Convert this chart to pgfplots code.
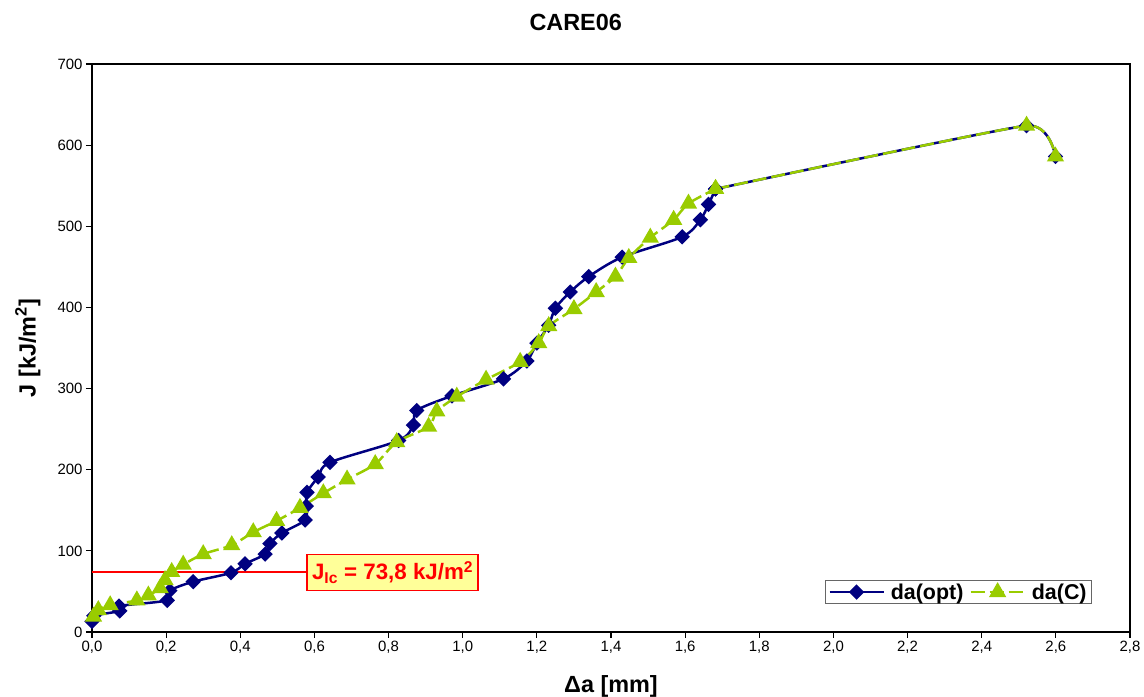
\documentclass[border=0pt]{standalone}
\usepackage{pgfplots}
\pgfplotsset{compat=1.18}
\usepackage{fontspec}
\setmainfont{Liberation Sans}
\definecolor{navyb}{HTML}{000080}
\definecolor{limeg}{HTML}{99CC00}
\definecolor{boxy}{HTML}{FFFF99}
\begin{document}
\begin{tikzpicture}
\useasboundingbox (-92bp,-65bp) rectangle (1052bp,632bp);
\begin{axis}[
  scale only axis,
  width=1038bp, height=568bp,
  xmin=0, xmax=2.8, ymin=0, ymax=700,
  xtick={0,0.2,...,2.8}, ytick={0,100,...,700},
  xtick pos=left, ytick pos=left,
  tick align=outside, major tick length=6bp,
  every tick/.style={black, line width=1.2bp},
  axis line style={black, line width=1.5bp},
  /pgf/number format/assume math mode=true,
  x tick label style={/pgf/number format/.cd, fixed, fixed zerofill, precision=1, use comma, /tikz/.cd, font=\fontsize{15}{17}\selectfont},
  y tick label style={/pgf/number format/.cd, fixed, /tikz/.cd, font=\fontsize{15}{17}\selectfont},
  title={\textbf{CARE06}},
  title style={at={(axis description cs:0.466,1.0634)}, anchor=center, font=\fontsize{23.5}{25}\selectfont},
  xlabel={\textbf{Δa [mm]}},
  xlabel style={at={(axis description cs:0.5,-0.095)}, anchor=center, font=\fontsize{23.5}{25}\selectfont},
  ylabel={\textbf{J [kJ/m\textsuperscript{2}]}},
  ylabel style={at={(axis description cs:-0.0617,0.5)}, anchor=center, rotate=0, font=\fontsize{23.5}{25}\selectfont},
  legend columns=2,
  legend style={at={(axis description cs:1,0)}, anchor=south east, xshift=-38bp, yshift=28bp, draw=gray!80!black, line width=0.8bp, font=\fontsize{21.5}{23}\selectfont\bfseries, column sep=4bp, inner xsep=3bp, inner ysep=1bp},
  legend image code/.code={\draw[#1, mark repeat=2, mark phase=2] plot coordinates {(0bp,0bp) (27bp,0bp) (54bp,0bp)};},
]
\addplot[navyb, line width=2.5bp, smooth, tension=0.5, mark=square*, mark size=4.2bp, mark options={rotate=45, solid, fill=navyb}] coordinates {
(0.000,13) (0.005,20) (0.075,26) (0.073,32) (0.203,39) (0.210,51) (0.273,62) (0.375,73)
(0.413,84) (0.467,96) (0.480,109) (0.512,122) (0.575,138) (0.578,155) (0.580,172) (0.610,191)
(0.642,209) (0.827,236) (0.867,255) (0.876,273) (0.971,291) (1.110,312) (1.173,334) (1.200,356)
(1.232,378) (1.250,399) (1.290,419) (1.340,438) (1.430,462) (1.592,487) (1.641,508) (1.663,527)
(1.682,546)
};
\addlegendentry{da(opt)}
\addplot[navyb, line width=2.5bp, smooth, tension=0.25, mark=square*, mark size=4.2bp, mark options={rotate=45, solid, fill=navyb}, forget plot] coordinates {
(1.682,546) (2.521,624) (2.599,586)
};
\addplot[limeg, line width=2.5bp, smooth, tension=0.5, dash pattern=on 14bp off 5bp, mark=triangle*, mark size=7.5bp, mark options={solid, fill=limeg}] coordinates {
(0.004,19) (0.017,27) (0.049,33) (0.121,39) (0.152,45) (0.184,54) (0.197,64) (0.215,74)
(0.246,83) (0.300,96) (0.377,107) (0.435,123) (0.498,137) (0.561,153) (0.624,171) (0.688,188)
(0.764,207) (0.822,234) (0.908,253) (0.930,272) (0.984,290) (1.063,311) (1.155,333) (1.205,356)
(1.232,377) (1.300,398) (1.360,419) (1.412,438) (1.448,461) (1.506,486) (1.569,508) (1.609,528)
(1.682,546)
};
\addlegendentry{da(C)}
\addplot[limeg, line width=2.5bp, smooth, tension=0.25, dash pattern=on 14bp off 5bp, mark=triangle*, mark size=7.5bp, mark options={solid, fill=limeg}, forget plot] coordinates {
(1.682,546) (2.521,624) (2.599,586)
};
\addplot[red, line width=1.5bp, forget plot] coordinates {(0,73.8) (0.578,73.8)};
\node[draw=red, line width=1.5bp, fill=boxy, text=red, font=\fontsize{22.4}{24}\selectfont\bfseries, inner xsep=5bp, inner ysep=7bp, anchor=west] at (axis cs:0.578,73.3) {J\textsubscript{Ic} = 73,8 kJ/m\textsuperscript{2}};
\end{axis}
\end{tikzpicture}
\end{document}
